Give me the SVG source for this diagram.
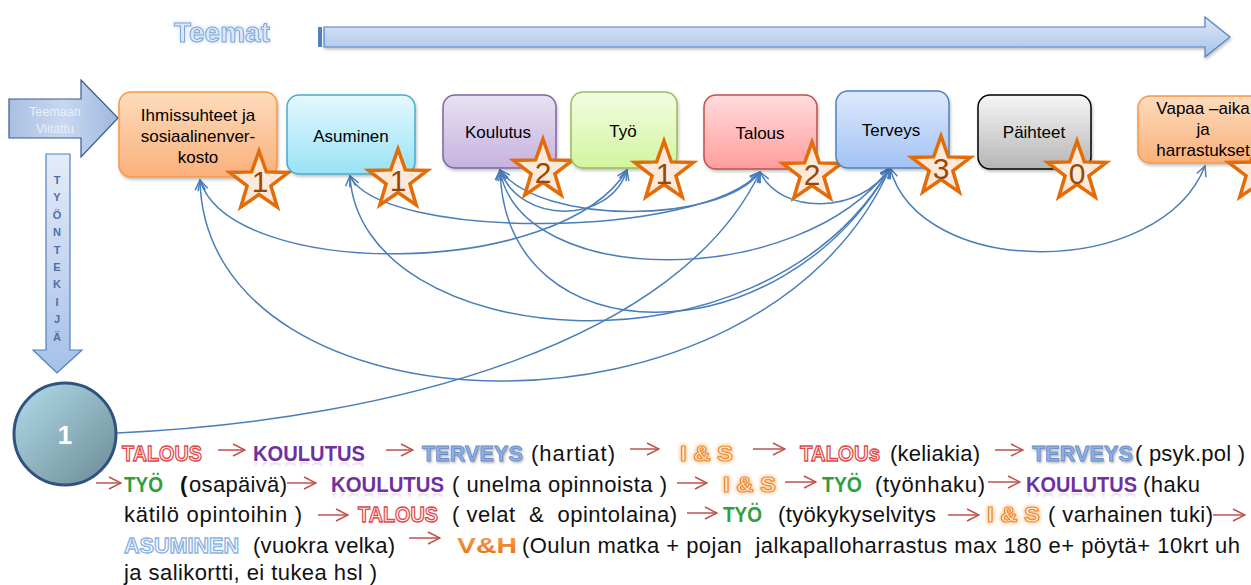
<svg xmlns="http://www.w3.org/2000/svg" width="1251" height="585" viewBox="0 0 1251 585">
  <defs>
    <style>
      .box { stroke-width: 1.5; }
      .lbl { font-family: "Liberation Sans", Arial, sans-serif; font-size: 17px; fill: #000; text-anchor: middle; }
      .star { fill: #fde9d9; stroke: #e36c09; stroke-width: 3.5; stroke-linejoin: miter; }
      .num { font-family: "Liberation Sans", Arial, sans-serif; font-size: 30px; fill: #974806; text-anchor: middle; }
      .conn { fill: none; stroke: #4a7ebb; stroke-width: 1.5; }
      .txt { font-family: "Liberation Sans", Arial, sans-serif; font-size: 22px; fill: #111; }
      .kw { font-family: "Liberation Sans", Arial, sans-serif; font-size: 22px; font-weight: bold; }
      .talous { fill: #fff2f2; stroke: #e04848; stroke-width: 1.3; }
      .koul { fill: #7030a0; }
      .koulr { fill: url(#reflP); }
      .terv { fill: #8eb0e6; stroke: #6a8cc6; stroke-width: 0.8; }
      .ias { fill: #fdeada; stroke: #f08a2a; stroke-width: 1.2; }
      .tyo { fill: #2e9e3e; }
      .asu { fill: #ffffff; stroke: #8db3e2; stroke-width: 1.4; }
      .vh { fill: url(#gVH); }
      .rarr { fill: none; stroke: #c0504d; stroke-width: 1.5; }
      .tk { font-family: "Liberation Sans", Arial, sans-serif; font-size: 11px; font-weight: bold; fill: #4f6fa6; text-anchor: middle; }
    </style>
    <linearGradient id="gOr" x1="0" y1="0" x2="0" y2="1"><stop offset="0" stop-color="#fddcbd"/><stop offset="1" stop-color="#fab07a"/></linearGradient>
    <linearGradient id="gCy" x1="0" y1="0" x2="0" y2="1"><stop offset="0" stop-color="#e4f9fd"/><stop offset="1" stop-color="#98e2f6"/></linearGradient>
    <linearGradient id="gPu" x1="0" y1="0" x2="0" y2="1"><stop offset="0" stop-color="#e8e2f2"/><stop offset="1" stop-color="#c6b2e0"/></linearGradient>
    <linearGradient id="gGr" x1="0" y1="0" x2="0" y2="1"><stop offset="0" stop-color="#f3fce2"/><stop offset="1" stop-color="#d2f59f"/></linearGradient>
    <linearGradient id="gRd" x1="0" y1="0" x2="0" y2="1"><stop offset="0" stop-color="#ffdcdc"/><stop offset="1" stop-color="#ff9d9d"/></linearGradient>
    <linearGradient id="gBl" x1="0" y1="0" x2="0" y2="1"><stop offset="0" stop-color="#dde9fc"/><stop offset="1" stop-color="#a2c3f5"/></linearGradient>
    <linearGradient id="gGy" x1="0" y1="0" x2="0" y2="1"><stop offset="0" stop-color="#f6f6f6"/><stop offset="1" stop-color="#b5b5b5"/></linearGradient>
    <linearGradient id="gArrH" x1="0" y1="0" x2="0" y2="1"><stop offset="0" stop-color="#dde7f6"/><stop offset="1" stop-color="#a8c2ea"/></linearGradient>
    <linearGradient id="gArrV" x1="0" y1="0" x2="0" y2="1"><stop offset="0" stop-color="#e4ecf8"/><stop offset="1" stop-color="#a6c0e8"/></linearGradient>
    <linearGradient id="gArrL" x1="0" y1="0" x2="1" y2="0"><stop offset="0" stop-color="#a9bfe2"/><stop offset="0.5" stop-color="#c9d8f0"/><stop offset="1" stop-color="#9fb8df"/></linearGradient>
    <linearGradient id="gCirc" x1="0" y1="0" x2="1" y2="1"><stop offset="0" stop-color="#b3dcec"/><stop offset="1" stop-color="#6b8a93"/></linearGradient>
    <linearGradient id="gVH" x1="0" y1="0" x2="0" y2="1"><stop offset="0" stop-color="#f9a55a"/><stop offset="1" stop-color="#e8680c"/></linearGradient>
    <linearGradient id="reflP" x1="0" y1="0" x2="0" y2="1"><stop offset="0" stop-color="#7030a0" stop-opacity="0"/><stop offset="0.55" stop-color="#7030a0" stop-opacity="0"/><stop offset="1" stop-color="#7030a0" stop-opacity="0.3"/></linearGradient>
    <filter id="shadow" x="-10%" y="-10%" width="125%" height="130%">
      <feDropShadow dx="1" dy="2" stdDeviation="1.5" flood-color="#000" flood-opacity="0.25"/>
    </filter>
    <filter id="glowO" x="-20%" y="-40%" width="140%" height="180%">
      <feGaussianBlur in="SourceAlpha" stdDeviation="2" result="b"/>
      <feFlood flood-color="#fbc694"/>
      <feComposite in2="b" operator="in"/>
      <feMerge><feMergeNode/><feMergeNode/><feMergeNode in="SourceGraphic"/></feMerge>
    </filter>
    <filter id="glowB" x="-20%" y="-40%" width="140%" height="180%">
      <feGaussianBlur in="SourceAlpha" stdDeviation="2" result="b"/>
      <feFlood flood-color="#c6d9f1"/>
      <feComposite in2="b" operator="in"/>
      <feMerge><feMergeNode/><feMergeNode in="SourceGraphic"/></feMerge>
    </filter>
    <filter id="tshadow" x="-10%" y="-30%" width="120%" height="160%">
      <feDropShadow dx="1" dy="1.5" stdDeviation="1" flood-color="#555" flood-opacity="0.45"/>
    </filter>
    <marker id="ah" viewBox="0 0 12 12" refX="11" refY="6" markerWidth="12" markerHeight="12" markerUnits="userSpaceOnUse" orient="auto-start-reverse">
      <path d="M1,1 L11,6 L1,11" fill="none" stroke="#4a7ebb" stroke-width="1.5"/>
    </marker>
    <marker id="ra" viewBox="0 0 14 14" refX="13" refY="7" markerWidth="14" markerHeight="14" markerUnits="userSpaceOnUse" orient="auto">
      <path d="M1,1 L13,7 L1,13" fill="none" stroke="#c0504d" stroke-width="1.5"/>
    </marker>
    <polygon id="starShape" points="0,-31 7.35,-10.11 29.48,-9.58 11.89,3.86 18.22,25.08 0,12.5 -18.22,25.08 -11.89,3.86 -29.48,-9.58 -7.35,-10.11"/>
  </defs>

  <rect width="1251" height="585" fill="#fff"/>

  <!-- heading and themes arrow -->
  <g id="teemat">
    <text x="222" y="42" text-anchor="middle" font-family="'Liberation Sans', Arial, sans-serif" font-size="28" font-weight="bold" fill="#dce7f5" stroke="#7ea6da" stroke-width="1" filter="url(#glowB)">Teemat</text>
    <rect x="318" y="27" width="4" height="20" fill="#4f81bd"/>
    <path d="M324,27 H1205 V17 L1230,37 L1205,57 V47 H324 Z" fill="url(#gArrH)" stroke="#4f81bd" stroke-width="1.2" filter="url(#shadow)"/>
  </g>

  <g id="teemaan-viitattu">
    <path d="M9,99 H81 V80 L118,118 L81,157 V138 H9 Z" fill="url(#gArrL)" stroke="#385d8a" stroke-width="1.2"/>
    <text x="55" y="116" text-anchor="middle" font-family="'Liberation Sans', Arial, sans-serif" font-size="12.5" fill="#e9eff9">Teemaan</text>
    <text x="55" y="133" text-anchor="middle" font-family="'Liberation Sans', Arial, sans-serif" font-size="12.5" fill="#e9eff9">Viitattu</text>
  </g>

  <g id="tyontekija">
    <path d="M46,154 H70 V350 H82 L57,373 L33,350 H46 Z" fill="url(#gArrV)" stroke="#4f81bd" stroke-width="1.2"/>
    <text class="tk" x="57" y="184">T</text>
    <text class="tk" x="57" y="201">Y</text>
    <text class="tk" x="57" y="219">Ö</text>
    <text class="tk" x="57" y="236">N</text>
    <text class="tk" x="57" y="254">T</text>
    <text class="tk" x="57" y="271">E</text>
    <text class="tk" x="57" y="288">K</text>
    <text class="tk" x="57" y="306">I</text>
    <text class="tk" x="57" y="323">J</text>
    <text class="tk" x="57" y="341">Ä</text>
  </g>

  <!-- connectors between themes -->
  <g id="connectors">
    <path class="conn" d="M117,433 C400,420 680,340 760,172" marker-end="url(#ah)"/>
    <path class="conn" d="M200,180 C230,280 560,280 627,170" marker-start="url(#ah)" marker-end="url(#ah)"/>
    <path class="conn" d="M200,180 C205,440 760,460 890,168" marker-start="url(#ah)" marker-end="url(#ah)"/>
    <path class="conn" d="M350,176 C380,240 700,240 760,172" marker-start="url(#ah)" marker-end="url(#ah)"/>
    <path class="conn" d="M350,176 C360,350 760,390 890,168" marker-start="url(#ah)" marker-end="url(#ah)"/>
    <path class="conn" d="M500,170 C520,225 610,225 627,170" marker-start="url(#ah)" marker-end="url(#ah)"/>
    <path class="conn" d="M500,170 C540,225 720,225 760,172" marker-start="url(#ah)" marker-end="url(#ah)"/>
    <path class="conn" d="M500,170 C520,290 800,290 890,168" marker-start="url(#ah)" marker-end="url(#ah)"/>
    <path class="conn" d="M500,170 C505,360 780,360 890,168" marker-start="url(#ah)" marker-end="url(#ah)"/>
    <path class="conn" d="M760,172 C780,215 860,215 890,168" marker-start="url(#ah)" marker-end="url(#ah)"/>
    <path class="conn" d="M890,168 C920,280 1160,280 1205,166" marker-start="url(#ah)" marker-end="url(#ah)"/>
  </g>

  <!-- theme nodes -->
  <g id="node-ihmissuhteet">
    <rect class="box" x="119" y="92" width="158" height="85" rx="12" fill="url(#gOr)" stroke="#f79646" filter="url(#shadow)"/>
    <text class="lbl" x="198" y="121">Ihmissuhteet  ja</text>
    <text class="lbl" x="198" y="142">sosiaalinenver-</text>
    <text class="lbl" x="198" y="163">kosto</text>
    <use href="#starShape" class="star" transform="translate(259,182)"/>
    <text class="num" x="260" y="192">1</text>
  </g>

  <g id="node-asuminen">
    <rect class="box" x="287" y="95" width="128" height="79" rx="12" fill="url(#gCy)" stroke="#4bacc6" filter="url(#shadow)"/>
    <text class="lbl" x="351" y="142">Asuminen</text>
    <use href="#starShape" class="star" transform="translate(398,180)"/>
    <text class="num" x="398" y="191">1</text>
  </g>

  <g id="node-koulutus">
    <rect class="box" x="443" y="95" width="113" height="73" rx="12" fill="url(#gPu)" stroke="#8064a2" filter="url(#shadow)"/>
    <text class="lbl" x="498" y="138">Koulutus</text>
    <use href="#starShape" class="star" transform="translate(543,170)"/>
    <text class="num" x="543" y="183">2</text>
  </g>

  <g id="node-tyo">
    <rect class="box" x="571" y="92" width="106" height="76" rx="12" fill="url(#gGr)" stroke="#9bbb59" filter="url(#shadow)"/>
    <text class="lbl" x="623" y="137">Työ</text>
    <use href="#starShape" class="star" transform="translate(664,172)"/>
    <text class="num" x="664" y="184">1</text>
  </g>

  <g id="node-talous">
    <rect class="box" x="704" y="95" width="113" height="74" rx="12" fill="url(#gRd)" stroke="#c0504d" filter="url(#shadow)"/>
    <text class="lbl" x="760" y="139">Talous</text>
    <use href="#starShape" class="star" transform="translate(812,173)"/>
    <text class="num" x="812" y="185">2</text>
  </g>

  <g id="node-terveys">
    <rect class="box" x="836" y="91" width="113" height="77" rx="12" fill="url(#gBl)" stroke="#4f81bd" filter="url(#shadow)"/>
    <text class="lbl" x="891" y="136">Terveys</text>
    <use href="#starShape" class="star" transform="translate(941,167)"/>
    <text class="num" x="941" y="179">3</text>
  </g>

  <g id="node-paihteet">
    <rect class="box" x="978" y="95" width="113" height="74" rx="12" fill="url(#gGy)" stroke="#000" filter="url(#shadow)"/>
    <text class="lbl" x="1034" y="138">Päihteet</text>
    <use href="#starShape" class="star" transform="translate(1077,172)"/>
    <text class="num" x="1077" y="184">0</text>
  </g>

  <g id="node-vapaa-aika">
    <rect class="box" x="1138" y="96" width="130" height="67" rx="12" fill="url(#gOr)" stroke="#f79646" filter="url(#shadow)"/>
    <text class="lbl" x="1203" y="114" font-size="16">Vapaa –aika</text>
    <text class="lbl" x="1203" y="135" font-size="16">ja</text>
    <text class="lbl" x="1203" y="156" font-size="16">harrastukset</text>
    <use href="#starShape" class="star" transform="translate(1258,172)"/>
  </g>

  <!-- client circle -->
  <g id="asiakas-1">
    <circle cx="65" cy="434" r="51" fill="url(#gCirc)" stroke="#2f5281" stroke-width="3"/>
    <text x="65" y="444" text-anchor="middle" font-family="'Liberation Sans', Arial, sans-serif" font-size="26" font-weight="bold" fill="#fff">1</text>
  </g>

  <!-- service path description -->
  <g id="polku">
    <!-- line 1 -->
    <text class="kw talous" x="122" y="461" textLength="80" lengthAdjust="spacingAndGlyphs">TALOUS</text>
    <path class="rarr" d="M218,450 H245" marker-end="url(#ra)"/>
    <text class="kw koul" x="253" y="461" textLength="112" lengthAdjust="spacingAndGlyphs">KOULUTUS</text>
    <text class="kw koulr" x="253" y="461" textLength="112" lengthAdjust="spacingAndGlyphs" transform="matrix(1,0,0,-1,0,923)">KOULUTUS</text>
    <path class="rarr" d="M386,450 H413" marker-end="url(#ra)"/>
    <text class="kw terv" x="422" y="461" textLength="101" lengthAdjust="spacingAndGlyphs" filter="url(#tshadow)">TERVEYS</text>
    <text class="txt" x="531" y="461" textLength="84">(hartiat)</text>
    <path class="rarr" d="M630,449 H659" marker-end="url(#ra)"/>
    <text class="kw ias" x="680" y="461" textLength="53" lengthAdjust="spacingAndGlyphs" filter="url(#glowO)">I &amp; S</text>
    <path class="rarr" d="M753,449 H785" marker-end="url(#ra)"/>
    <text class="kw talous" x="800" y="461" textLength="80" lengthAdjust="spacingAndGlyphs">TALOUs</text>
    <text class="txt" x="890" y="461" textLength="90">(keliakia)</text>
    <path class="rarr" d="M995,450 H1023" marker-end="url(#ra)"/>
    <text class="kw terv" x="1032" y="461" textLength="101" lengthAdjust="spacingAndGlyphs" filter="url(#tshadow)">TERVEYS</text>
    <text class="txt" x="1135" y="461" textLength="110">( psyk.pol )</text>

    <!-- line 2 -->
    <path class="rarr" d="M96,483 H121" marker-end="url(#ra)"/>
    <text class="kw tyo" x="124" y="492" textLength="39" lengthAdjust="spacingAndGlyphs">TYÖ</text>
    <text class="txt" x="180" y="492" font-weight="bold" font-size="24">(</text>
    <text class="txt" x="189" y="492" textLength="98">osapäivä)</text>
    <path class="rarr" d="M287,483 H316" marker-end="url(#ra)"/>
    <text class="kw koul" x="331" y="492" textLength="113" lengthAdjust="spacingAndGlyphs">KOULUTUS</text>
    <text class="kw koulr" x="331" y="492" textLength="113" lengthAdjust="spacingAndGlyphs" transform="matrix(1,0,0,-1,0,985)">KOULUTUS</text>
    <text class="txt" x="452" y="492" textLength="215">( unelma opinnoista )</text>
    <path class="rarr" d="M677,483 H707" marker-end="url(#ra)"/>
    <text class="kw ias" x="723" y="492" textLength="53" lengthAdjust="spacingAndGlyphs" filter="url(#glowO)">I &amp; S</text>
    <path class="rarr" d="M785,482 H816" marker-end="url(#ra)"/>
    <text class="kw tyo" x="822" y="492" textLength="40" lengthAdjust="spacingAndGlyphs">TYÖ</text>
    <text class="txt" x="875" y="492" textLength="110">(työnhaku)</text>
    <path class="rarr" d="M988,482 H1020" marker-end="url(#ra)"/>
    <text class="kw koul" x="1026" y="492" textLength="111" lengthAdjust="spacingAndGlyphs">KOULUTUS</text>
    <text class="kw koulr" x="1026" y="492" textLength="111" lengthAdjust="spacingAndGlyphs" transform="matrix(1,0,0,-1,0,985)">KOULUTUS</text>
    <text class="txt" x="1143" y="492" textLength="57">(haku</text>

    <!-- line 3 -->
    <text class="txt" x="124" y="522" textLength="178">kätilö opintoihin )</text>
    <path class="rarr" d="M318,515 H348" marker-end="url(#ra)"/>
    <text class="kw talous" x="358" y="522" textLength="80" lengthAdjust="spacingAndGlyphs">TALOUS</text>
    <text class="txt" x="452" y="522" textLength="225" xml:space="preserve">( velat  &amp;  opintolaina)</text>
    <path class="rarr" d="M687,513 H717" marker-end="url(#ra)"/>
    <text class="kw tyo" x="723" y="522" textLength="39" lengthAdjust="spacingAndGlyphs">TYÖ</text>
    <text class="txt" x="778" y="522" textLength="158">(työkykyselvitys</text>
    <path class="rarr" d="M948,515 H979" marker-end="url(#ra)"/>
    <text class="kw ias" x="987" y="522" textLength="53" lengthAdjust="spacingAndGlyphs" filter="url(#glowO)">I &amp; S</text>
    <text class="txt" x="1048" y="522" textLength="165">( varhainen tuki)</text>
    <path class="rarr" d="M1213,515 H1245" marker-end="url(#ra)"/>

    <!-- line 4 -->
    <text class="kw asu" x="124" y="553" textLength="115" lengthAdjust="spacingAndGlyphs">ASUMINEN</text>
    <text class="txt" x="253" y="553" textLength="142">(vuokra velka)</text>
    <path class="rarr" d="M409,538 H440" marker-end="url(#ra)"/>
    <text class="kw vh" x="457" y="553" textLength="60" lengthAdjust="spacingAndGlyphs" font-size="24">V&amp;H</text>
    <text class="txt" x="522" y="553" textLength="718" xml:space="preserve">(Oulun matka + pojan  jalkapalloharrastus max 180 e+ pöytä+ 10krt uh</text>

    <!-- line 5 -->
    <text class="txt" x="124" y="580" textLength="253">ja salikortti, ei tukea hsl )</text>
  </g>
</svg>
